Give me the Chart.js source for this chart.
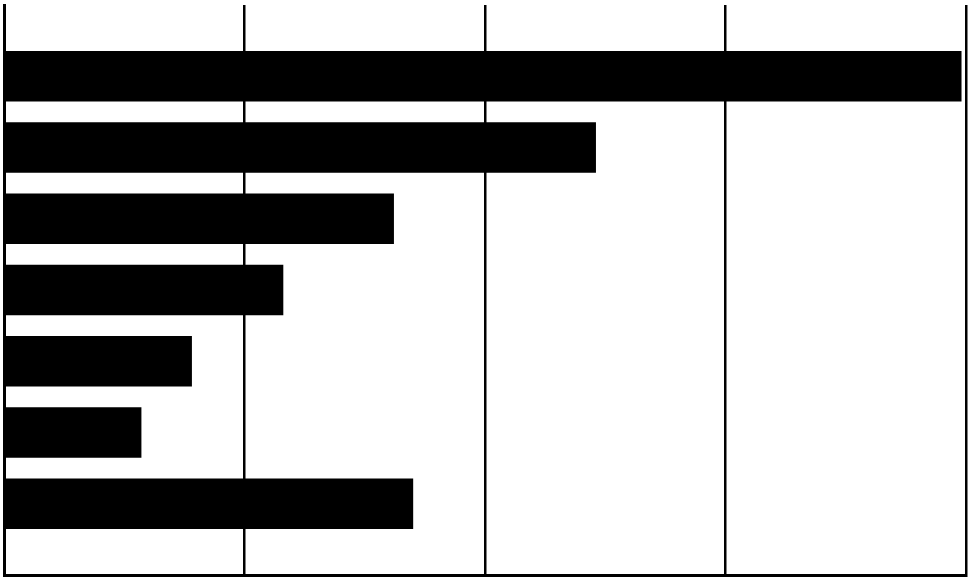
<!DOCTYPE html>
<html>
<head>
<meta charset="utf-8">
<script src="https://cdn.jsdelivr.net/npm/chart.js@4"></script>
<style>
html,body{margin:0;padding:0;background:#fff;}
#wrap{width:968px;height:577px;position:relative;}
</style>
</head>
<body>
<div id="wrap"><canvas id="c"></canvas></div>
<script>
const categories = ['', 'A', 'B', 'C', 'D', 'E', 'F', 'G', ''];
const values = [null, 3.98, 2.46, 1.62, 1.16, 0.78, 0.57, 1.70, null];
const xMin = 0;
const xMax = 4;

new Chart(document.getElementById('c'), {
  type: 'bar',
  data: {
    labels: categories,
    datasets: [{
      data: values,
      backgroundColor: '#000',
      borderWidth: 0,
      barThickness: 50
    }]
  },
  options: {
    indexAxis: 'y',
    responsive: true,
    maintainAspectRatio: false,
    animation: false,
    layout: { padding: { left: 4, right: 2, top: 5, bottom: 2 } },
    plugins: { legend: { display: false }, tooltip: { enabled: false } },
    scales: {
      x: {
        type: 'linear',
        min: xMin, max: xMax,
        ticks: { display: false, stepSize: 1 },
        grid: { color: '#000', lineWidth: 2.5, drawTicks: false },
        border: { display: true, color: '#000', width: 3 }
      },
      y: {
        type: 'category',
        offset: false,
        ticks: { display: false },
        grid: { display: false, drawTicks: false },
        border: { display: true, color: '#000', width: 3 }
      }
    }
  }
});
</script>
</body>
</html>
